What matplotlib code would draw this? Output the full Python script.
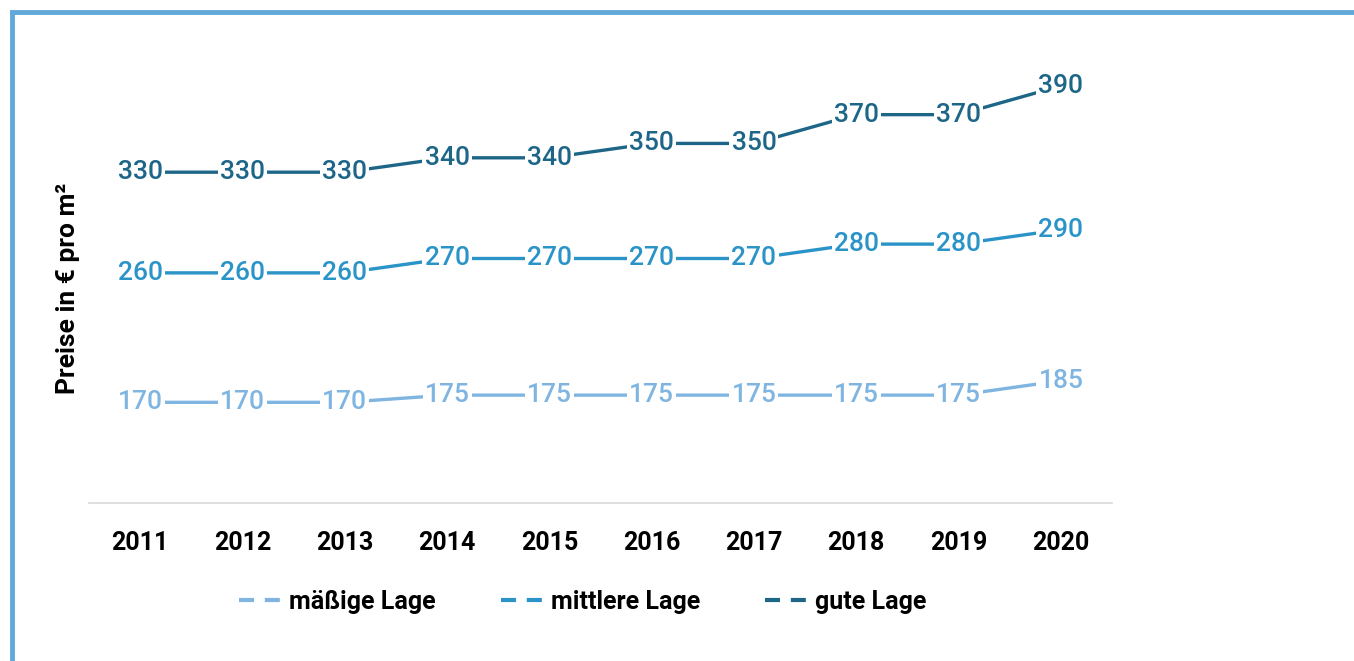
import matplotlib.pyplot as plt
from matplotlib.patches import Rectangle
from matplotlib.lines import Line2D

years = [2011, 2012, 2013, 2014, 2015, 2016, 2017, 2018, 2019, 2020]
maessig = [170, 170, 170, 175, 175, 175, 175, 175, 175, 185]
mittel = [260, 260, 260, 270, 270, 270, 270, 280, 280, 290]
gut = [330, 330, 330, 340, 340, 350, 350, 370, 370, 390]
series_names = ["mäßige Lage", "mittlere Lage", "gute Lage"]
colors = ["#7fb5e0", "#2a93c8", "#1d6688"]

plt.rcParams['font.family'] = ['Roboto', 'DejaVu Sans']

fig = plt.figure(figsize=(13.54, 6.61), dpi=100)
ax = fig.add_axes([89 / 1354, 1 - 503 / 661, (1112 - 89) / 1354, (503 - 60) / 661])

# light blue frame, only top and left edges visible
fig.patches.append(Rectangle((12 / 1354, -0.1), 1.2, 1.1 - 12 / 661,
                             transform=fig.transFigure, fill=False,
                             edgecolor="#62a8d9", linewidth=3.5))

for vals, col in zip([maessig, mittel, gut], colors):
    ax.plot(years, vals, color=col, linewidth=2.4, solid_capstyle='butt', zorder=2)
    for x, v in zip(years, vals):
        ax.text(x, v, str(v), color=col, fontsize=19, ha='center', va='center',
                fontweight='medium', zorder=3,
                bbox=dict(facecolor='white', edgecolor='none', pad=1.5))

ax.set_xlim(2010.5, 2020.5)
ax.set_ylim(100, 408)
ax.set_xticks(years)
ax.set_xticklabels([str(y) for y in years], fontsize=18, fontweight='bold')
ax.tick_params(axis='x', length=0, pad=20)
ax.set_yticks([])
for s in ['top', 'right', 'left']:
    ax.spines[s].set_visible(False)
ax.spines['bottom'].set_color('#d9d9d9')
ax.spines['bottom'].set_linewidth(1.2)

fig.text(68 / 1354, 1 - 288 / 661, "Preise in € pro m²", rotation=90,
         ha='center', va='center', fontsize=19, fontweight='bold')

handles = [Line2D([], [], color=c, linewidth=3, linestyle=(0, (3.6, 2.6)))
           for c in colors]
fig.legend(handles, series_names, loc='center', bbox_to_anchor=(583 / 1354, 1 - 602 / 661),
           ncol=3, frameon=False, handlelength=1.85, handletextpad=0.15,
           columnspacing=2.6, prop={'weight': 'bold', 'size': 18})

fig.savefig("out.png", dpi=100)
